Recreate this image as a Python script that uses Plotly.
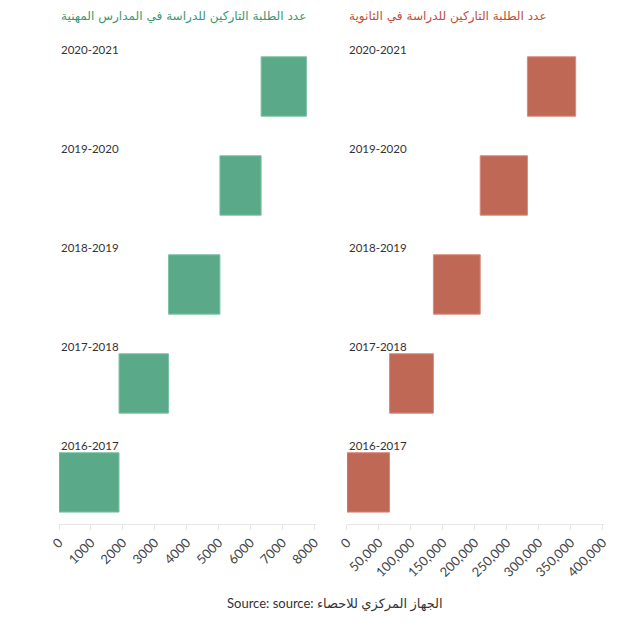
import plotly.graph_objects as go

years = ["2016-2017", "2017-2018", "2018-2019", "2019-2020", "2020-2021"]
vocational_dropouts = [1880, 1550, 1610, 1290, 1420]
secondary_dropouts = [66600, 68600, 73200, 73800, 75500]

title_vocational = "عدد الطلبة التاركين للدراسة في المدارس المهنية"
title_secondary = "عدد الطلبة التاركين للدراسة في الثانوية"
source_text = "Source: source: الجهاز المركزي للاحصاء"

green = "#5aaa8a"
red = "#c06856"
green_text = "#3a9870"
red_text = "#bd4e3a"
font_family = "Lato, 'Open Sans', 'DejaVu Sans', sans-serif"

fig = go.Figure()
fig.add_trace(go.Waterfall(
    orientation="h", y=years, x=vocational_dropouts,
    measure=["relative"] * len(years),
    increasing=dict(marker=dict(color=green, line=dict(color="#7cc3a6", width=1))),
    connector=dict(visible=False),
    xaxis="x", yaxis="y", hoverinfo="x+y",
))
fig.add_trace(go.Waterfall(
    orientation="h", y=years, x=secondary_dropouts,
    measure=["relative"] * len(years),
    increasing=dict(marker=dict(color=red, line=dict(color="#d88a7a", width=1))),
    connector=dict(visible=False),
    xaxis="x2", yaxis="y2", hoverinfo="x+y",
))

axis_common = dict(
    showline=True, linecolor="#e6e6e6", linewidth=1,
    ticks="outside", ticklen=5, tickcolor="#e6e6e6",
    showgrid=False, zeroline=False, tickangle=-45, automargin=False,
    tickfont=dict(size=13, color="#444", family=font_family),
)
yaxis_common = dict(
    showticklabels=False, showgrid=False, zeroline=False, showline=False,
    automargin=False,
    categoryorder="array", categoryarray=years, range=[-0.42, 4.5],
)

# page body has an 8px default margin, so the figure is offset by (8, 8)
fig.update_layout(
    width=640, height=637,
    margin=dict(l=51, r=44, t=29, b=121),
    paper_bgcolor="white", plot_bgcolor="white",
    showlegend=False,
    waterfallgap=0.4,
    font=dict(family=font_family, color="#333"),
    xaxis=dict(domain=[0, 0.4716], range=[0, 8050], dtick=1000, **axis_common),
    yaxis=dict(anchor="x", **yaxis_common),
    xaxis2=dict(domain=[0.5284, 1], range=[0, 402000], dtick=50000,
                tickformat=",", anchor="y2", **axis_common),
    yaxis2=dict(anchor="x2", **yaxis_common),
)

annotations = []
for yr in years:
    for xr, yref in (("x domain", "y"), ("x2 domain", "y2")):
        annotations.append(dict(
            x=0, xref=xr, y=yr, yref=yref, xanchor="left", yanchor="middle",
            yshift=37, text=yr, showarrow=False,
            font=dict(size=11.5, color="#333", family=font_family),
        ))
annotations.append(dict(
    x=0, xref="x domain", y=1, yref="paper", yanchor="middle", xanchor="left",
    yshift=21, text=title_vocational, showarrow=False,
    font=dict(size=12.1, color=green_text, family="'DejaVu Sans', sans-serif"),
))
annotations.append(dict(
    x=0, xref="x2 domain", y=1, yref="paper", yanchor="middle", xanchor="left",
    yshift=21, text=title_secondary, showarrow=False,
    font=dict(size=12.1, color=red_text, family="'DejaVu Sans', sans-serif"),
))
annotations.append(dict(
    x=(335 - 59) / (604 - 59), xref="paper", y=0, yref="paper",
    xanchor="center", yanchor="middle",
    text=source_text, showarrow=False, yshift=-79,
    font=dict(size=13, color="#333", family=font_family),
))
fig.update_layout(annotations=annotations)

fig.write_html("out.html")
